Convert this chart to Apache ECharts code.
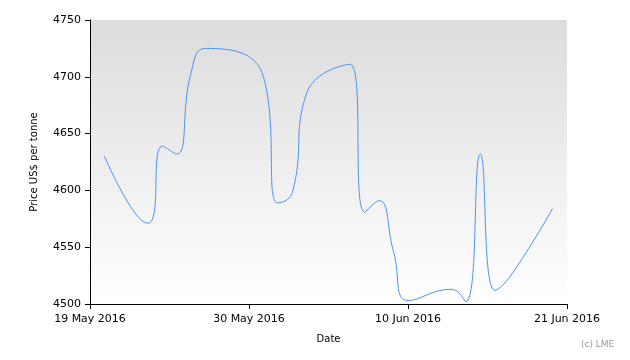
<!DOCTYPE html>
<html>
<head>
<meta charset="utf-8">
<script src="https://cdn.jsdelivr.net/npm/echarts@6/dist/echarts.min.js"></script>
<style>
html,body{margin:0;padding:0;background:#fff;}
#chart{width:630px;height:360px;}
</style>
</head>
<body>
<div id="chart"></div>
<script>
// ---- data ----
var dates = ['2016-05-20','2016-05-23','2016-05-24','2016-05-25','2016-05-26','2016-05-27',
             '2016-05-31','2016-06-01','2016-06-02','2016-06-03','2016-06-06','2016-06-07',
             '2016-06-08','2016-06-09','2016-06-10','2016-06-13','2016-06-14','2016-06-15',
             '2016-06-16','2016-06-17','2016-06-20'];
var prices = [4630, 4571, 4639, 4632, 4704, 4725,
              4700, 4589, 4598, 4686, 4711, 4581,
              4591, 4546, 4503, 4513, 4502, 4632,
              4512, 4523, 4584];
var axisStart = '2016-05-19';
var tickLabels = ['19 May 2016', '30 May 2016', '10 Jun 2016', '21 Jun 2016'];
var tickStepDays = 11;
var yMin = 4500, yMax = 4750, yStep = 50;

// ---- build ----
var DAY = 86400000;
var t0 = Date.parse(axisStart + 'T00:00:00Z');
var seriesData = dates.map(function (d, i) {
  return [(Date.parse(d + 'T00:00:00Z') - t0) / DAY, prices[i]];
});
var xMax = tickStepDays * (tickLabels.length - 1);

var chart = echarts.init(document.getElementById('chart'), null, {renderer: 'canvas'});
var font = 'DejaVu Sans';
chart.setOption({
  animation: false,
  backgroundColor: '#ffffff',
  grid: {
    left: 90, right: 63, top: 20, bottom: 56,
    show: true, borderWidth: 0,
    backgroundColor: new echarts.graphic.LinearGradient(0, 0, 0, 1, [
      {offset: 0, color: '#dcdcdc'},
      {offset: 1, color: '#ffffff'}
    ])
  },
  xAxis: {
    type: 'value', min: 0, max: xMax, interval: tickStepDays,
    name: 'Date', nameLocation: 'middle', nameGap: 30,
    nameTextStyle: {color: '#000', fontFamily: font, fontSize: 10},
    axisLine: {show: true, onZero: false, lineStyle: {color: '#000', width: 1}},
    axisTick: {show: true, length: 5, lineStyle: {color: '#000'}},
    axisLabel: {
      color: '#000', fontFamily: font, fontSize: 11, margin: 10,
      formatter: function (v) { return tickLabels[Math.round(v / tickStepDays)] || ''; }
    },
    splitLine: {show: false}
  },
  yAxis: {
    type: 'value', min: yMin, max: yMax, interval: yStep,
    name: 'Price US$ per tonne', nameLocation: 'middle', nameGap: 51, nameRotate: 90,
    nameTextStyle: {color: '#000', fontFamily: font, fontSize: 10},
    axisLine: {show: true, lineStyle: {color: '#000', width: 1}},
    axisTick: {show: true, length: 5, lineStyle: {color: '#000'}},
    axisLabel: {
      color: '#000', fontFamily: font, fontSize: 11, margin: 9,
      formatter: function (v) { return String(v); }
    },
    splitLine: {show: false}
  },
  series: [{
    type: 'line',
    data: seriesData,
    smooth: 0.5,
    showSymbol: false,
    lineStyle: {color: '#4d94f0', width: 1}
  }],
  graphic: [{
    type: 'text', left: 581, top: 340,
    style: {text: '(c) LME', fill: '#999999', font: '9px "DejaVu Sans"'}
  }]
});
</script>
</body>
</html>
